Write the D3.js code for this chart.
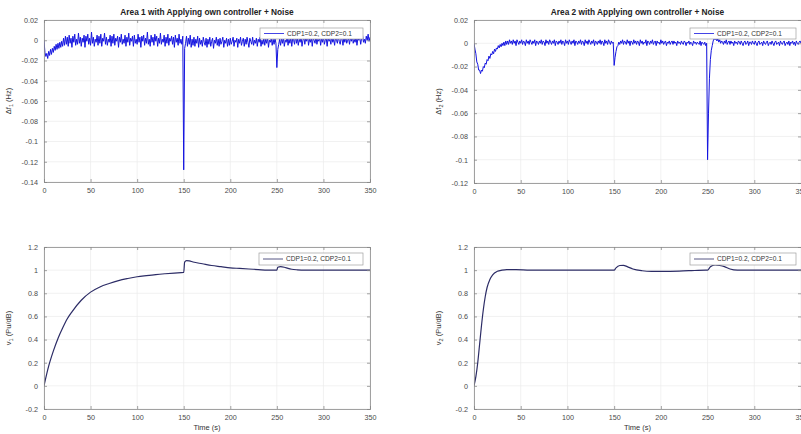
<!DOCTYPE html>
<html>
<head>
<meta charset="utf-8">
<script src="https://cdn.jsdelivr.net/npm/d3@7/dist/d3.min.js"></script>
<style>
  html, body { margin: 0; padding: 0; background: #fff; }
  svg { display: block; font-family: "Liberation Sans", Arial, sans-serif; }
</style>
</head>
<body>
<svg id="chart" width="801" height="434"></svg>
<script>
// Simulation time axis (s), sampled every second
const timeTicks = [0, 50, 100, 150, 200, 250, 300, 350];

// Area 1 frequency deviation (Hz), one sample per second, t = 0..350
const df1 = [
  0.000, -0.012, -0.016, -0.013, -0.018, -0.011, -0.015, -0.009, -0.014, -0.008,
  -0.012, -0.006, -0.010, -0.004, -0.009, -0.003, -0.008, -0.002, -0.007, -0.001,
  -0.006, 0.002, -0.005, 0.004, -0.004, 0.003, -0.006, 0.005, -0.003, 0.002,
  -0.007, 0.004, -0.002, 0.006, -0.005, 0.001, -0.004, 0.007, -0.003, 0.003,
  -0.006, 0.002, -0.002, 0.005, -0.007, 0.004, -0.001, 0.006, -0.004, 0.002,
  -0.005, 0.008, -0.003, 0.003, -0.006, 0.001, -0.002, 0.005, -0.005, 0.004,
  -0.003, 0.006, -0.006, 0.002, -0.001, 0.007, -0.004, 0.003, -0.005, 0.001,
  -0.002, 0.005, -0.006, 0.004, -0.003, 0.006, -0.005, 0.002, -0.001, 0.004,
  -0.007, 0.003, -0.002, 0.006, -0.004, 0.001, -0.003, 0.005, -0.006, 0.003,
  -0.002, 0.007, -0.005, 0.002, -0.001, 0.004, -0.006, 0.005, -0.003, 0.001,
  -0.004, 0.006, -0.002, 0.003, -0.007, 0.004, -0.001, 0.005, -0.005, 0.002,
  -0.003, 0.008, -0.004, 0.001, -0.006, 0.005, -0.002, 0.003, -0.005, 0.006,
  -0.001, 0.004, -0.006, 0.002, -0.003, 0.007, -0.004, 0.001, -0.002, 0.005,
  -0.006, 0.003, -0.003, 0.006, -0.005, 0.002, -0.001, 0.004, -0.004, 0.003,
  -0.007, 0.005, -0.002, 0.002, -0.005, 0.006, -0.003, 0.001, -0.004, 0.004,
  -0.128, -0.008, -0.003, 0.004, -0.006, 0.002, -0.004, 0.005, -0.007, 0.001,
  -0.005, 0.003, -0.006, 0.001, -0.003, 0.004, -0.007, 0.002, -0.004, 0.000,
  -0.006, 0.003, -0.002, -0.005, 0.002, -0.007, 0.001, -0.004, 0.003, -0.006,
  -0.001, 0.002, -0.008, 0.000, -0.003, 0.003, -0.005, 0.001, -0.006, 0.002,
  -0.004, -0.001, 0.003, -0.007, 0.000, -0.003, 0.002, -0.006, 0.001, -0.005,
  0.002, -0.004, -0.001, 0.003, -0.006, 0.000, -0.002, 0.002, -0.007, 0.001,
  -0.003, 0.003, -0.005, -0.001, 0.002, -0.006, 0.001, -0.004, 0.003, -0.002,
  -0.007, 0.002, -0.001, -0.004, 0.003, -0.005, 0.000, -0.003, 0.002, -0.006,
  0.001, -0.002, 0.003, -0.006, 0.000, -0.004, 0.002, -0.005, 0.001, -0.003,
  0.003, -0.007, 0.000, -0.002, 0.002, -0.005, 0.001, -0.004, 0.002, -0.003,
  -0.027, -0.009, -0.004, 0.001, -0.005, 0.002, -0.003, 0.003, -0.006, 0.000,
  -0.002, 0.004, -0.005, 0.001, -0.003, 0.003, -0.006, 0.002, 0.000, -0.004,
  0.006, -0.003, 0.002, -0.005, 0.001, -0.002, 0.004, -0.006, 0.000, 0.003,
  -0.004, 0.002, -0.001, 0.005, -0.005, 0.001, -0.002, 0.003, -0.006, 0.002,
  0.000, -0.003, 0.004, -0.004, 0.001, -0.001, 0.003, -0.005, 0.002, -0.002,
  0.004, -0.004, 0.000, 0.002, -0.006, 0.003, -0.001, 0.001, -0.004, 0.005,
  -0.002, 0.001, -0.005, 0.003, 0.000, -0.003, 0.004, -0.001, -0.004, 0.002,
  0.001, -0.005, 0.003, -0.002, 0.004, -0.003, 0.000, 0.002, -0.004, 0.003,
  -0.001, 0.005, -0.003, 0.001, -0.002, 0.004, -0.005, 0.002, 0.000, 0.003,
  -0.004, 0.002, 0.005, -0.002, 0.001, -0.003, 0.004, 0.000, 0.006, -0.001,
  0.003
];

// Area 2 frequency deviation (Hz), one sample per second, t = 0..350
const df2 = [
  0.000, -0.005, -0.009, -0.016, -0.018, -0.023, -0.023, -0.026, -0.023, -0.024,
  -0.020, -0.021, -0.017, -0.018, -0.014, -0.015, -0.011, -0.013, -0.009, -0.010,
  -0.007, -0.009, -0.005, -0.007, -0.004, -0.005, -0.002, -0.004, -0.001, -0.003,
  0.000, -0.002, 0.001, -0.002, 0.002, -0.001, 0.002, -0.001, 0.003, 0.000,
  0.002, -0.001, 0.003, 0.000, 0.002, -0.002, 0.003, 0.001, -0.001, 0.002,
  0.000, 0.003, -0.001, 0.002, 0.001, -0.002, 0.003, 0.000, 0.002, -0.001,
  0.003, 0.001, -0.001, 0.002, 0.000, 0.003, -0.002, 0.002, 0.001, -0.001,
  0.002, 0.000, 0.003, -0.001, 0.002, 0.001, -0.002, 0.003, 0.000, 0.002,
  -0.001, 0.003, 0.001, -0.001, 0.002, 0.000, 0.003, -0.002, 0.002, 0.001,
  -0.001, 0.002, 0.000, 0.003, -0.001, 0.002, 0.001, -0.002, 0.003, 0.000,
  0.002, -0.001, 0.003, 0.001, -0.001, 0.002, 0.000, 0.003, -0.002, 0.002,
  0.001, -0.001, 0.002, 0.000, 0.003, -0.001, 0.002, 0.001, -0.002, 0.003,
  0.000, 0.002, -0.001, 0.003, 0.001, -0.001, 0.002, 0.000, 0.003, -0.002,
  0.002, 0.001, -0.001, 0.002, 0.000, 0.003, -0.001, 0.002, 0.001, -0.002,
  0.003, 0.000, 0.002, -0.001, 0.003, 0.001, -0.001, 0.002, 0.000, 0.001,
  -0.019, -0.012, -0.007, -0.003, -0.002, 0.001, -0.001, 0.002, 0.000, 0.003,
  -0.001, 0.002, 0.001, -0.001, 0.003, 0.000, 0.002, -0.002, 0.002, 0.001,
  -0.001, 0.003, 0.000, 0.002, -0.001, 0.002, 0.001, -0.002, 0.003, 0.000,
  0.002, -0.001, 0.001, 0.000, 0.003, -0.002, 0.002, 0.001, -0.001, 0.002,
  0.000, 0.003, -0.001, 0.001, 0.002, -0.002, 0.002, 0.000, 0.001, -0.001,
  0.003, 0.000, 0.002, -0.001, 0.001, 0.002, -0.002, 0.001, 0.000, 0.002,
  -0.001, 0.001, 0.002, -0.001, 0.002, 0.000, 0.001, -0.002, 0.002, 0.000,
  0.001, -0.001, 0.002, 0.000, -0.001, 0.002, 0.001, -0.002, 0.001, 0.000,
  0.002, -0.001, 0.001, 0.000, -0.002, 0.002, 0.000, 0.001, -0.001, 0.001,
  0.000, -0.001, 0.002, -0.002, 0.001, 0.000, -0.001, 0.001, -0.002, 0.000,
  -0.100, -0.060, -0.030, -0.014, -0.006, -0.002, 0.002, 0.004, 0.003, 0.004,
  0.002, 0.004, 0.001, 0.003, 0.000, 0.002, 0.001, -0.001, 0.002, 0.000,
  0.003, -0.001, 0.001, 0.002, -0.001, 0.002, 0.000, 0.001, -0.002, 0.002,
  0.000, 0.001, -0.001, 0.002, 0.001, -0.001, 0.002, 0.000, -0.002, 0.001,
  0.002, -0.001, 0.000, 0.002, -0.002, 0.001, 0.001, -0.001, 0.002, 0.000,
  -0.001, 0.002, 0.000, -0.002, 0.001, 0.002, -0.001, 0.000, 0.001, -0.002,
  0.002, 0.000, -0.001, 0.001, 0.002, -0.002, 0.000, 0.001, -0.001, 0.002,
  0.000, -0.002, 0.001, 0.002, -0.001, 0.000, 0.001, -0.002, 0.002, 0.000,
  -0.001, 0.001, 0.002, -0.002, 0.000, 0.001, -0.001, 0.002, -0.002, 0.001,
  0.000, 0.002, -0.001, 0.001, -0.002, 0.002, 0.000, -0.001, 0.001, 0.002,
  0.000
];

// Area 1 virtual inertia response (Pu/dB): sample times and values
const v1Time = [0, 5, 10, 15, 20, 25, 30, 40, 50, 60, 70, 80, 90, 100, 110, 120, 130, 140, 150,
  151, 153, 156, 160, 170, 180, 190, 200, 210, 220, 230, 240, 250,
  251, 254, 258, 262, 266, 272, 280, 300, 350];
const v1 = [0, 0.17, 0.30, 0.41, 0.50, 0.58, 0.64, 0.74, 0.81, 0.855, 0.885, 0.91, 0.928, 0.943, 0.953, 0.962, 0.969, 0.975, 0.98,
  1.07, 1.082, 1.08, 1.07, 1.055, 1.04, 1.03, 1.02, 1.015, 1.01, 1.005, 1.0, 1.0,
  1.025, 1.03, 1.025, 1.015, 1.008, 1.003, 1.0, 1.0, 1.0];

// Area 2 virtual inertia response (Pu/dB): sample times and values
const v2Time = [0, 2, 4, 6, 8, 10, 12, 14, 17, 20, 25, 30, 35, 45, 60, 148, 150,
  152, 156, 160, 164, 170, 180, 190, 210, 230, 248, 250,
  253, 258, 263, 268, 274, 282, 300, 350];
const v2 = [0, 0.08, 0.2, 0.36, 0.52, 0.66, 0.77, 0.85, 0.92, 0.96, 0.99, 1.0, 1.005, 1.005, 1.0, 1.0, 1.0,
  1.02, 1.04, 1.042, 1.03, 1.01, 0.995, 0.99, 0.99, 0.995, 1.0, 1.0,
  1.03, 1.045, 1.04, 1.03, 1.01, 1.0, 1.0, 1.0];

const dfTicks1 = [0.02, 0, -0.02, -0.04, -0.06, -0.08, -0.1, -0.12, -0.14];
const dfTicks2 = [0.02, 0, -0.02, -0.04, -0.06, -0.08, -0.1, -0.12];
const vTicks = [1.2, 1, 0.8, 0.6, 0.4, 0.2, 0, -0.2];

const legendLabel = "CDP1=0.2, CDP2=0.1";

const svg = d3.select("#chart");
const fmt = v => String(+v.toFixed(2));

const panels = [
  { x0: 44, x1: 370, y0: 20, y1: 182, yDomain: [-0.14, 0.02], yTicks: dfTicks1,
    t: d3.range(df1.length), v: df1, color: "#1414e0", width: 1, curve: d3.curveLinear,
    title: "Area 1 with Applying own controller + Noise", ylab: ["\u0394f", "1", " (Hz)"],
    xlab: null, legend: [260, 28, 103, 11] },
  { x0: 474, x1: 801, y0: 20, y1: 183, yDomain: [-0.12, 0.02], yTicks: dfTicks2,
    t: d3.range(df2.length), v: df2, color: "#1414e0", width: 1, curve: d3.curveLinear,
    title: "Area 2 with Applying own controller + Noise", ylab: ["\u0394f", "2", " (Hz)"],
    xlab: null, legend: [690, 28, 106, 11] },
  { x0: 44, x1: 370, y0: 247, y1: 409, yDomain: [-0.2, 1.2], yTicks: vTicks,
    t: v1Time, v: v1, color: "#2c2c66", width: 1.2, curve: d3.curveMonotoneX,
    title: null, ylab: ["v", "1", " (Pu/dB)"], xlab: "Time (s)", legend: [259, 253, 104, 12] },
  { x0: 474, x1: 801, y0: 247, y1: 409, yDomain: [-0.2, 1.2], yTicks: vTicks,
    t: v2Time, v: v2, color: "#2c2c66", width: 1.2, curve: d3.curveMonotoneX,
    title: null, ylab: ["v", "2", " (Pu/dB)"], xlab: "Time (s)", legend: [690, 253, 106, 12] }
];

panels.forEach((p, i) => {
  const x = d3.scaleLinear().domain([0, 350]).range([p.x0, p.x1]);
  const y = d3.scaleLinear().domain(p.yDomain).range([p.y1, p.y0]);
  const g = svg.append("g");

  // grid
  g.append("g").selectAll("line.gx").data(timeTicks).join("line")
    .attr("x1", d => x(d)).attr("x2", d => x(d)).attr("y1", p.y0).attr("y2", p.y1)
    .attr("stroke", "#ebebeb").attr("stroke-width", 0.7);
  g.append("g").selectAll("line.gy").data(p.yTicks).join("line")
    .attr("x1", p.x0).attr("x2", p.x1).attr("y1", d => y(d)).attr("y2", d => y(d))
    .attr("stroke", "#ebebeb").attr("stroke-width", 0.7);

  // data line
  const clipId = "clip" + i;
  svg.append("clipPath").attr("id", clipId).append("rect")
    .attr("x", p.x0).attr("y", p.y0 - 1).attr("width", p.x1 - p.x0).attr("height", p.y1 - p.y0 + 2);
  const line = d3.line().x((d, k) => x(p.t[k])).y(d => y(d)).curve(p.curve);
  g.append("path").datum(p.v).attr("d", line)
    .attr("fill", "none").attr("stroke", p.color).attr("stroke-width", p.width)
    .attr("stroke-linejoin", "round").attr("clip-path", `url(#${clipId})`);

  // axes (inward ticks, boxed)
  const axColor = "#8a8a8a";
  const xb = d3.axisBottom(x).tickValues(timeTicks).tickSize(-3).tickPadding(6).tickFormat(fmt);
  const yl = d3.axisLeft(y).tickValues(p.yTicks).tickSize(-3).tickPadding(6).tickFormat(fmt);
  const xt = d3.axisTop(x).tickValues(timeTicks).tickSize(-3).tickFormat("");
  const yr = d3.axisRight(y).tickValues(p.yTicks).tickSize(-3).tickFormat("");
  const styleAxis = s => {
    s.select(".domain").attr("stroke", axColor).attr("stroke-width", 0.8);
    s.selectAll(".tick line").attr("stroke", axColor).attr("stroke-width", 0.8);
    s.selectAll(".tick text").attr("fill", "#4a4a4a").attr("font-size", 7.2)
      .attr("font-family", "Liberation Sans, Arial, sans-serif");
  };
  g.append("g").attr("transform", `translate(0,${p.y1})`).call(xb).call(styleAxis);
  g.append("g").attr("transform", `translate(${p.x0},0)`).call(yl).call(styleAxis);
  g.append("g").attr("transform", `translate(0,${p.y0})`).call(xt).call(styleAxis);
  g.append("g").attr("transform", `translate(${p.x1},0)`).call(yr).call(styleAxis);

  // title
  if (p.title) {
    g.append("text").attr("x", (p.x0 + p.x1) / 2).attr("y", 15)
      .attr("text-anchor", "middle").attr("font-size", 8.3).attr("font-weight", "bold")
      .attr("fill", "#222").text(p.title);
  }
  // x label
  if (p.xlab) {
    g.append("text").attr("x", (p.x0 + p.x1) / 2).attr("y", 430)
      .attr("text-anchor", "middle").attr("font-size", 7.5).attr("fill", "#333").text(p.xlab);
  }
  // y label
  const ly = (p.y0 + p.y1) / 2;
  const lx = p.x0 - 33;
  const yt = g.append("text").attr("transform", `translate(${lx},${ly}) rotate(-90)`)
    .attr("text-anchor", "middle").attr("font-size", 7.5).attr("fill", "#333");
  yt.append("tspan").text(p.ylab[0]);
  yt.append("tspan").attr("font-size", 5.5).attr("dy", 2).text(p.ylab[1]);
  yt.append("tspan").attr("dy", -2).text(p.ylab[2]);

  // legend
  const [lxb, lyb, lw, lh] = p.legend;
  const lg = g.append("g");
  lg.append("rect").attr("x", lxb).attr("y", lyb).attr("width", lw).attr("height", lh)
    .attr("fill", "#fff").attr("stroke", "#a0a0a0").attr("stroke-width", 0.7);
  lg.append("line").attr("x1", lxb + 4).attr("x2", lxb + 24)
    .attr("y1", lyb + lh / 2).attr("y2", lyb + lh / 2)
    .attr("stroke", p.color).attr("stroke-width", 0.8);
  lg.append("text").attr("x", lxb + 27).attr("y", lyb + lh / 2 + 2.4)
    .attr("font-size", 6.6).attr("fill", "#333").text(legendLabel);
});
</script>
</body>
</html>
